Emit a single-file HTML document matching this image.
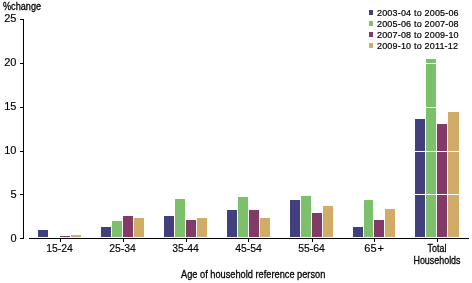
<!DOCTYPE html>
<html><head><meta charset="utf-8"><style>
html,body{margin:0;padding:0;background:#fff;}
body{width:472px;height:283px;position:relative;overflow:hidden;font-family:"Liberation Sans",sans-serif;color:#000;-webkit-font-smoothing:antialiased;}
div{position:absolute;}
.yl,.xl,.lt,.sq{filter:grayscale(1);-webkit-text-stroke:0.15px #000;}

.g{left:29px;width:440px;height:1px;background:#fff;}
.yt{left:20px;width:3px;height:1px;background:#000;}
.yl{left:0;width:16.5px;text-align:right;font-size:11px;line-height:13px;}
.xt{top:238px;width:1px;height:4px;background:#000;}
.xl{top:242px;width:81px;text-align:center;font-size:11px;line-height:13px;transform:scaleX(0.95);}
.ls{left:369px;width:4px;height:5px;}
.lt{left:377px;font-size:9px;line-height:10px;white-space:nowrap;letter-spacing:0.18px;-webkit-text-stroke:0.2px #000;}
.sq{white-space:nowrap;font-size:11px;line-height:13px;-webkit-text-stroke:0.3px #000;}
</style></head><body>
<div class="b" style="left:38px;width:10px;top:230px;height:7px;background:#413f7d;"></div><div class="b" style="left:60px;width:10px;top:236px;height:1px;background:#823a66;"></div><div class="b" style="left:71px;width:10px;top:235px;height:2px;background:#d0ac66;"></div><div class="b" style="left:101px;width:10px;top:227px;height:10px;background:#413f7d;"></div><div class="b" style="left:112px;width:10px;top:221px;height:16px;background:#7dc06b;"></div><div class="b" style="left:123px;width:10px;top:216px;height:21px;background:#823a66;"></div><div class="b" style="left:134px;width:10px;top:218px;height:19px;background:#d0ac66;"></div><div class="b" style="left:164px;width:10px;top:216px;height:21px;background:#413f7d;"></div><div class="b" style="left:175px;width:10px;top:199px;height:38px;background:#7dc06b;"></div><div class="b" style="left:186px;width:10px;top:220px;height:17px;background:#823a66;"></div><div class="b" style="left:197px;width:10px;top:218px;height:19px;background:#d0ac66;"></div><div class="b" style="left:227px;width:10px;top:210px;height:27px;background:#413f7d;"></div><div class="b" style="left:238px;width:10px;top:197px;height:40px;background:#7dc06b;"></div><div class="b" style="left:249px;width:10px;top:210px;height:27px;background:#823a66;"></div><div class="b" style="left:260px;width:10px;top:218px;height:19px;background:#d0ac66;"></div><div class="b" style="left:290px;width:10px;top:200px;height:37px;background:#413f7d;"></div><div class="b" style="left:301px;width:10px;top:196px;height:41px;background:#7dc06b;"></div><div class="b" style="left:312px;width:10px;top:213px;height:24px;background:#823a66;"></div><div class="b" style="left:323px;width:10px;top:206px;height:31px;background:#d0ac66;"></div><div class="b" style="left:353px;width:10px;top:227px;height:10px;background:#413f7d;"></div><div class="b" style="left:364px;width:9px;top:200px;height:37px;background:#7dc06b;"></div><div class="b" style="left:374px;width:10px;top:220px;height:17px;background:#823a66;"></div><div class="b" style="left:385px;width:10px;top:209px;height:28px;background:#d0ac66;"></div><div class="b" style="left:415px;width:10px;top:119px;height:118px;background:#413f7d;"></div><div class="b" style="left:426px;width:10px;top:59px;height:178px;background:#7dc06b;"></div><div class="b" style="left:437px;width:10px;top:124px;height:113px;background:#823a66;"></div><div class="b" style="left:448px;width:11px;top:112px;height:125px;background:#d0ac66;"></div>
<div class="g" style="top:63px"></div><div class="g" style="top:107px"></div><div class="g" style="top:151px"></div><div class="g" style="top:194px"></div>
<div style="left:23px;top:19px;width:1px;height:220px;background:#000"></div>
<div style="left:29px;top:238px;width:440px;height:1px;background:#000"></div>
<div class="yt" style="top:19px"></div><div class="yl" style="top:12px">25</div><div class="yt" style="top:63px"></div><div class="yl" style="top:56px">20</div><div class="yt" style="top:107px"></div><div class="yl" style="top:100px">15</div><div class="yt" style="top:151px"></div><div class="yl" style="top:144px">10</div><div class="yt" style="top:194px"></div><div class="yl" style="top:188px">5</div><div class="yt" style="top:238px"></div><div class="yl" style="top:232px">0</div>
<div class="xt" style="left:60px"></div><div class="xt" style="left:123px"></div><div class="xt" style="left:186px"></div><div class="xt" style="left:248px"></div><div class="xt" style="left:312px"></div><div class="xt" style="left:374px"></div><div class="xt" style="left:437px"></div>
<div class="xl" style="left:19.299999999999997px">15-24</div><div class="xl" style="left:82.3px">25-34</div><div class="xl" style="left:145.3px">35-44</div><div class="xl" style="left:208.3px">45-54</div><div class="xl" style="left:271.3px">55-64</div><div class="xl" style="left:333.7px;transform:none;">6<span style="letter-spacing:1px">5</span>+</div>
<div class="sq" style="left:3px;top:0px;transform:scaleX(0.83);transform-origin:0 0;">%change</div>
<div class="sq" style="left:181px;top:268px;transform:scaleX(0.84);transform-origin:0 0;">Age of household reference person</div>
<div class="sq" style="left:387px;top:242px;width:100px;line-height:12px;text-align:center;transform:scaleX(0.81);">Total<br>Households</div>
<div class="ls" style="top:10px;background:#413f7d"></div><div class="lt" style="top:8px">2003-04 to 2005-06</div><div class="ls" style="top:21px;background:#7dc06b"></div><div class="lt" style="top:19px">2005-06 to 2007-08</div><div class="ls" style="top:32px;background:#823a66"></div><div class="lt" style="top:30px">2007-08 to 2009-10</div><div class="ls" style="top:43px;background:#d0ac66"></div><div class="lt" style="top:41px">2009-10 to 2011-12</div>
</body></html>
